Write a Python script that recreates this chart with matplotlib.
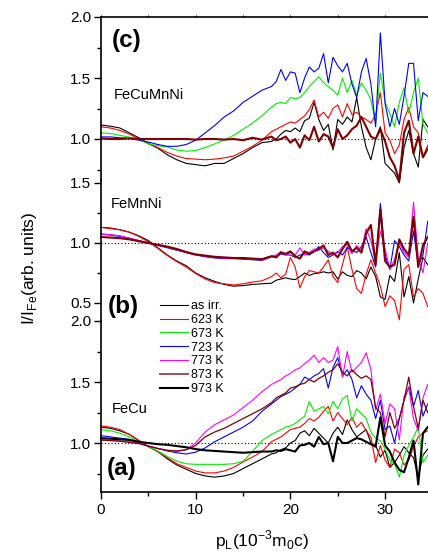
import matplotlib
matplotlib.use("Agg")
import matplotlib.pyplot as plt
from matplotlib.lines import Line2D
from matplotlib.ticker import MultipleLocator

plt.rcParams['font.family'] = ['Liberation Sans', 'DejaVu Sans']
plt.rcParams['mathtext.fontset'] = 'custom'
plt.rcParams['mathtext.rm'] = 'Liberation Sans'

# momentum axis (10^-3 m0c)
pL = [0, 1, 2, 3, 4, 5, 6, 7, 8, 9, 10, 11, 12, 13, 14, 15, 16, 17, 18,
      18.5, 19, 19.5, 20, 20.5, 21, 21.5, 22, 22.5, 23, 23.5, 24, 24.5, 25, 25.5, 26,
      26.5, 27, 27.5, 28, 28.5, 29, 29.5, 30, 30.5, 31, 31.5, 32, 32.5, 33, 33.5, 34, 34.5]

labels = ['as irr.', '623 K', '673 K', '723 K', '773 K', '873 K', '973 K']

# ---- (c) FeCuMnNi ----
c_asirr = [1.115, 1.105, 1.09, 1.05, 1.01, 0.965, 0.925, 0.87, 0.83, 0.80, 0.79, 0.78, 0.80, 0.80, 0.84, 0.88, 0.93, 0.97, 0.98,
           1.00, 1.04, 1.07, 1.06, 1.09, 1.06, 1.15, 1.17, 1.30, 1.16, 1.07, 1.12, 0.91, 1.16, 1.12, 1.18,
           1.14, 1.34, 1.10, 0.93, 0.83, 1.00, 1.10, 0.80, 0.76, 0.72, 0.64, 0.93, 1.07, 0.88, 0.77, 1.16, 1.10]
c_623 = [1.10, 1.09, 1.07, 1.04, 1.00, 0.96, 0.93, 0.89, 0.86, 0.84, 0.835, 0.83, 0.835, 0.845, 0.86, 0.90, 0.94, 0.99, 1.06,
         1.08, 1.10, 1.12, 1.14, 1.13, 1.16, 1.19, 1.24, 1.32, 1.18, 1.22, 1.17, 1.25, 1.28, 1.18, 1.29,
         1.20, 1.22, 1.18, 1.16, 1.13, 1.20, 1.38, 1.05, 0.99, 0.88, 0.95, 1.16, 1.26, 1.10, 1.05, 0.85, 0.95]
c_673 = [1.05, 1.045, 1.03, 1.015, 1.00, 0.96, 0.945, 0.935, 0.91, 0.90, 0.905, 0.93, 0.96, 0.99, 1.03, 1.08, 1.13, 1.19, 1.26,
         1.29, 1.30, 1.29, 1.34, 1.33, 1.34, 1.38, 1.43, 1.47, 1.51, 1.46, 1.43, 1.40, 1.36, 1.50, 1.38,
         1.48, 1.36, 1.46, 1.40, 1.32, 1.13, 1.54, 1.30, 1.21, 1.10, 1.30, 1.42, 1.21, 1.38, 1.50, 1.12, 1.05]
c_723 = [1.017, 1.017, 1.01, 1.005, 0.99, 0.975, 0.955, 0.94, 0.94, 0.955, 0.99, 1.05, 1.11, 1.18, 1.23, 1.30, 1.35, 1.40, 1.43,
         1.47, 1.57, 1.48, 1.55, 1.54, 1.38, 1.50, 1.59, 1.55, 1.58, 1.70, 1.46, 1.67, 1.60, 1.55, 1.62,
         1.45, 1.34, 1.55, 1.66, 1.45, 1.10, 1.87, 1.29, 1.10, 1.25, 1.12, 1.35, 1.62, 1.62, 1.15, 1.38, 1.35]
c_873 = [1.005, 1.0, 1.0, 1.005, 1.0, 1.0, 1.0, 1.0, 1.0, 1.0, 0.995, 1.0, 1.0, 0.995, 1.0, 0.99, 1.01, 0.995, 1.02,
         0.99, 1.0, 1.02, 0.97, 1.0, 0.93, 1.03, 0.99, 1.10, 0.98, 1.04, 1.02, 0.93, 1.08, 1.0, 1.03,
         1.08, 1.11, 1.18, 1.10, 1.02, 1.0, 1.08, 0.98, 0.85, 0.78, 0.66, 1.05, 1.15, 0.88, 1.02, 0.85, 0.92]

# ---- (b) FeMnNi ----
b_asirr = [1.13, 1.125, 1.11, 1.09, 1.06, 1.02, 0.96, 0.90, 0.85, 0.81, 0.75, 0.71, 0.68, 0.655, 0.64, 0.645, 0.655, 0.66, 0.665,
           0.69, 0.70, 0.71, 0.70, 0.695, 0.72, 0.75, 0.73, 0.745, 0.75, 0.76, 0.75, 0.76, 0.70, 0.76, 0.73,
           0.72, 0.77, 0.75, 0.70, 0.80, 0.72, 0.55, 0.53, 0.73, 0.68, 0.92, 0.55, 0.72, 0.50, 0.70, 0.88, 0.82]
b_623 = [1.13, 1.12, 1.11, 1.09, 1.055, 1.01, 0.955, 0.895, 0.845, 0.80, 0.745, 0.70, 0.67, 0.66, 0.65, 0.66, 0.675, 0.685, 0.72,
         0.75, 0.71, 0.74, 0.88, 0.80, 0.625, 0.72, 0.77, 0.76, 0.75, 0.80, 0.86, 0.72, 0.67, 0.82, 0.97,
         0.78, 0.62, 0.58, 0.74, 0.86, 0.75, 0.64, 0.47, 0.56, 0.52, 0.36, 0.78, 0.82, 0.55, 0.62, 0.58, 0.47]
b_723 = [1.075, 1.065, 1.055, 1.04, 1.02, 1.0, 0.98, 0.96, 0.94, 0.92, 0.90, 0.885, 0.875, 0.87, 0.87, 0.865, 0.86, 0.855, 0.885,
         0.89, 0.91, 0.90, 0.90, 0.88, 0.90, 0.91, 0.90, 0.93, 0.97, 0.92, 0.88, 0.90, 0.93, 0.90, 0.96,
         0.94, 0.92, 0.97, 1.05, 0.92, 0.80, 1.33, 0.90, 0.78, 1.02, 0.97, 0.90, 0.85, 1.10, 0.82, 0.90, 1.18]
b_773 = [1.075, 1.07, 1.06, 1.04, 1.02, 1.0, 0.985, 0.965, 0.945, 0.92, 0.90, 0.89, 0.88, 0.875, 0.875, 0.87, 0.865, 0.86, 0.89,
         0.90, 0.93, 0.90, 0.92, 0.90, 0.96, 0.90, 0.92, 0.95, 0.94, 0.96, 0.93, 0.90, 0.92, 0.97, 0.99,
         0.91, 0.98, 0.94, 1.12, 1.02, 0.85, 1.10, 0.95, 0.78, 0.86, 1.00, 0.92, 0.88, 1.34, 0.88, 0.75, 1.00]
b_873 = [1.05, 1.045, 1.04, 1.03, 1.015, 1.0, 0.985, 0.97, 0.95, 0.925, 0.905, 0.895, 0.885, 0.88, 0.875, 0.875, 0.87, 0.865, 0.89,
         0.88, 0.92, 0.91, 0.93, 0.89, 0.87, 0.93, 0.91, 0.93, 0.95, 0.98, 0.90, 0.92, 0.88, 0.95, 1.01,
         0.93, 0.96, 0.92, 1.08, 1.15, 0.82, 1.28, 0.85, 0.80, 0.82, 1.03, 0.95, 0.90, 1.22, 0.80, 0.98, 1.05]

# ---- (a) FeCu ----
a_asirr = [1.13, 1.12, 1.10, 1.07, 1.02, 0.97, 0.93, 0.87, 0.82, 0.785, 0.75, 0.73, 0.72, 0.73, 0.75, 0.79, 0.83, 0.87, 0.91,
           0.92, 0.945, 0.96, 1.0, 1.02, 1.08, 1.10, 1.06, 1.12, 1.08, 1.04, 1.0, 1.08, 1.13, 1.07, 1.19,
           1.11, 1.05, 1.08, 1.11, 1.0, 0.98, 0.885, 0.94, 0.80, 0.84, 0.90, 0.97, 0.92, 0.88, 0.72, 0.90, 0.95]
a_623 = [1.14, 1.13, 1.11, 1.07, 1.02, 0.97, 0.93, 0.88, 0.83, 0.80, 0.77, 0.755, 0.755, 0.77, 0.80, 0.845, 0.885, 0.93, 1.01,
         1.03, 1.05, 1.08, 1.11, 1.12, 1.13, 1.16, 1.20, 1.18, 1.21, 1.26, 1.30, 1.18, 1.25, 1.20, 1.15,
         1.21, 1.13, 1.17, 1.10, 1.05, 0.84, 0.98, 0.86, 0.80, 0.95, 0.92, 0.82, 0.86, 0.97, 1.05, 1.08, 1.10]
a_673 = [1.11, 1.10, 1.08, 1.05, 1.01, 0.97, 0.935, 0.89, 0.85, 0.83, 0.825, 0.825, 0.825, 0.825, 0.83, 0.85, 0.93, 1.02, 1.07,
         1.09, 1.11, 1.13, 1.14, 1.16, 1.19, 1.22, 1.34, 1.26, 1.28, 1.30, 1.24, 1.34, 1.28, 1.36, 1.39,
         1.18, 1.28, 1.24, 1.20, 1.09, 1.04, 1.02, 0.95, 0.86, 0.83, 0.72, 0.90, 0.98, 1.05, 1.13, 0.84, 0.90]
a_723 = [1.06, 1.05, 1.04, 1.03, 1.0, 0.975, 0.955, 0.935, 0.92, 0.91, 0.925, 0.96, 1.01, 1.05, 1.09, 1.13, 1.18, 1.26, 1.32,
         1.35, 1.38, 1.40, 1.42, 1.45, 1.48, 1.54, 1.52, 1.55, 1.57, 1.61, 1.45, 1.62, 1.70, 1.55, 1.60,
         1.52, 1.37, 1.47, 1.40, 1.35, 1.20, 1.35, 1.11, 1.14, 1.0, 1.20, 1.35, 1.46, 1.30, 1.43, 1.22, 1.32]
a_773 = [1.025, 1.02, 1.015, 1.01, 1.0, 0.975, 0.955, 0.94, 0.93, 0.945, 1.0, 1.09, 1.15, 1.19, 1.23, 1.29, 1.35, 1.42, 1.48,
         1.50, 1.52, 1.55, 1.57, 1.60, 1.615, 1.65, 1.68, 1.72, 1.66, 1.70, 1.66, 1.68, 1.79, 1.54, 1.75,
         1.58, 1.62, 1.66, 1.74, 1.60, 1.27, 1.40, 1.16, 1.32, 1.28, 1.025, 1.38, 1.45, 1.20, 1.10, 1.37, 1.48]
a_873 = [1.025, 1.02, 1.015, 1.005, 0.995, 0.975, 0.955, 0.94, 0.935, 0.945, 0.98, 1.05, 1.09, 1.12, 1.16, 1.20, 1.24, 1.28, 1.33,
         1.37, 1.39, 1.41, 1.45, 1.46, 1.48, 1.49, 1.52, 1.50, 1.53, 1.55, 1.58, 1.60, 1.65, 1.58, 1.55,
         1.60, 1.56, 1.53, 1.55, 1.52, 1.29, 1.25, 1.05, 1.25, 1.12, 1.20, 1.35, 1.54, 1.30, 1.12, 1.35, 1.25]
a_973 = [1.04, 1.035, 1.03, 1.025, 1.01, 1.0, 0.99, 0.985, 0.975, 0.965, 0.95, 0.94, 0.935, 0.93, 0.925, 0.92, 0.925, 0.93, 0.93,
         0.94, 0.935, 0.95, 0.94, 0.93, 0.98, 0.985, 1.0, 0.97, 1.05, 0.99, 1.0, 0.85, 1.05, 1.0, 1.0,
         1.02, 1.04, 1.03, 1.01, 0.99, 0.97, 1.21, 0.98, 0.93, 0.84, 0.78, 0.76, 0.88, 1.02, 0.66, 1.08, 1.13]

# style per series: colour, width
sty = {'as irr.': ('black', 0.8), '623 K': ('red', 0.8), '673 K': ('#00ee00', 0.8),
       '723 K': ('blue', 0.8), '773 K': ('magenta', 0.8), '873 K': ('#800000', 0.9),
       '973 K': ('black', 1.5)}

W, H = 428, 555
fig = plt.figure(figsize=(W / 100, H / 100), dpi=100)

def px_axes(top, bottom, left=101, right=428):
    return fig.add_axes([left / W, 1 - bottom / H, (right - left) / W, (bottom - top) / H])

ax_c = px_axes(17, 180)
ax_b = px_axes(180, 321)
ax_a = px_axes(321, 492)

xmax = 327 / 9.47
ax_c.set_ylim(2.0 - 163 / 122, 2.0)
ax_b.set_ylim(0.35, 1.525)
ax_a.set_ylim(2.0 - 171 / 122, 2.0)

panels = [
    (ax_c, [('as irr.', c_asirr), ('623 K', c_623), ('673 K', c_673), ('723 K', c_723), ('873 K', c_873)]),
    (ax_b, [('as irr.', b_asirr), ('623 K', b_623), ('723 K', b_723), ('773 K', b_773), ('873 K', b_873)]),
    (ax_a, [('as irr.', a_asirr), ('623 K', a_623), ('673 K', a_673), ('723 K', a_723), ('773 K', a_773),
            ('873 K', a_873), ('973 K', a_973)]),
]

for ax, series in panels:
    ax.set_facecolor('none')
    ax.set_xlim(0, xmax)
    ax.axhline(1.0, color='black', ls=(0, (1, 2)), lw=0.8, zorder=1)
    for name, vals in series:
        col, lw = sty[name]
        if name == '873 K' and ax is not ax_a:
            lw = 1.5
        ax.plot(pL, vals, color=col, lw=lw, clip_on=False, zorder=2)
    ax.yaxis.set_major_locator(MultipleLocator(0.5))
    ax.yaxis.set_minor_locator(MultipleLocator(0.25))
    ax.xaxis.set_major_locator(MultipleLocator(10))
    ax.xaxis.set_minor_locator(MultipleLocator(5))
    ax.spines['right'].set_visible(False)
    ax.spines['left'].set_linewidth(1.2)
    ax.tick_params(axis='y', which='major', direction='out', length=5, width=1, labelsize=11, pad=2)
    ax.tick_params(axis='y', which='minor', direction='out', length=3, width=1)
    ax.tick_params(axis='x', which='both', bottom=False, labelbottom=False)

ax_c.spines['bottom'].set_visible(False)
ax_c.spines['top'].set_linewidth(1.2)
ax_c.tick_params(axis='x', which='both', top=True, direction='out', length=1.5, width=0.8)
ax_b.spines['top'].set_visible(False)
ax_b.spines['bottom'].set_visible(False)
ax_a.spines['top'].set_visible(False)
ax_a.spines['bottom'].set_linewidth(1.2)
ax_a.tick_params(axis='x', which='major', bottom=True, labelbottom=True, direction='out',
                 length=5, width=1, labelsize=11, pad=3)
ax_a.tick_params(axis='x', which='minor', bottom=True, direction='out', length=3, width=1)

# panel annotations
fig.text(112 / W, 1 - 40 / H, '(c)', fontsize=17.5, fontweight='bold', va='center')
fig.text(108 / W, 1 - 307 / H, '(b)', fontsize=17.5, fontweight='bold', va='center')
fig.text(107 / W, 1 - 469 / H, '(a)', fontsize=17.5, fontweight='bold', va='center')
fig.text(114 / W, 1 - 95 / H, 'FeCuMnNi', fontsize=10.5, va='center')
fig.text(111 / W, 1 - 204 / H, 'FeMnNi', fontsize=10.5, va='center')
fig.text(112 / W, 1 - 409 / H, 'FeCu', fontsize=10.5, va='center')

fig.text(30 / W, 1 - 268 / H, r'I/I$_\mathregular{Fe}$(arb. units)', rotation=90,
         fontsize=12.5, ha='center', va='center')
fig.text(262 / W, 1 - 540 / H, r'p$_\mathregular{L}$(10$^\mathregular{-3}$m$_\mathregular{0}$c)',
         fontsize=12.5, ha='center', va='center')

handles = []
for name in labels:
    col, lw = sty[name]
    if name == '873 K':
        col = '#a05050'
        lw = 1.4
    handles.append(Line2D([], [], color=col, lw=lw))
fig.legend(handles, labels, loc='upper left', bbox_to_anchor=(160 / W, 1 - 300 / H),
           frameon=False, fontsize=9, handlelength=2.2, handletextpad=0.3,
           labelspacing=0.15, borderpad=0, borderaxespad=0)

fig.savefig('out.png', dpi=100)
